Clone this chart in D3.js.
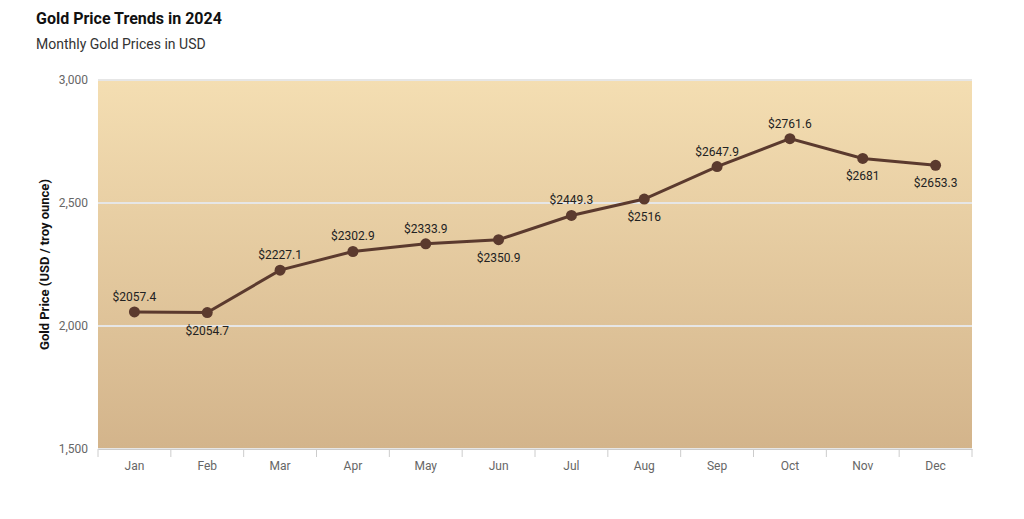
<!DOCTYPE html>
<html><head><meta charset="utf-8">
<script src="https://cdn.jsdelivr.net/npm/d3@7"></script>
<style>body{margin:0;background:#fff;font-family:Roboto,sans-serif}</style>
</head><body><svg id="c" width="1024" height="519"></svg>
<script>
const months = ['Jan','Feb','Mar','Apr','May','Jun','Jul','Aug','Sep','Oct','Nov','Dec'];
const prices = [2057.4,2054.7,2227.1,2302.9,2333.9,2350.9,2449.3,2516,2647.9,2761.6,2681,2653.3];
const labelSide = ['up','down','up','up','up','down','up','down','up','up','down','down'];
const yTicks = [1500,2000,2500,3000];

const margin = {top: 80, right: 52, bottom: 70, left: 98};
const width = 1024, height = 519;
const svg = d3.select('#c');

const x = d3.scaleBand().domain(months).range([margin.left, width - margin.right]);
const y = d3.scaleLinear().domain([1500, 3000]).range([height - margin.bottom, margin.top]);

const defs = svg.append('defs');
const grad = defs.append('linearGradient').attr('id','bg').attr('x1',0).attr('y1',0).attr('x2',0).attr('y2',1);
grad.append('stop').attr('offset','0%').attr('stop-color','#f4deb2');
grad.append('stop').attr('offset','100%').attr('stop-color','#d3b48b');

svg.append('rect').attr('x', margin.left).attr('y', margin.top)
  .attr('width', width - margin.right - margin.left).attr('height', y(1500) - y(3000))
  .attr('fill','url(#bg)');

// grid
svg.append('g').selectAll('line').data(yTicks).join('line')
  .attr('x1', margin.left).attr('x2', width - margin.right)
  .attr('y1', d => y(d)).attr('y2', d => y(d))
  .attr('stroke','#e6e6e6').attr('stroke-width',2);

// axes
const yAxis = svg.append('g').attr('transform', `translate(${margin.left},0)`)
  .call(d3.axisLeft(y).tickValues(yTicks).tickSize(0).tickPadding(10));
yAxis.select('.domain').remove();
yAxis.selectAll('text').attr('fill','#666').attr('font-size',12).attr('font-family','Roboto');

const xAxis = svg.append('g').attr('transform', `translate(0,${y(1500)})`)
  .call(d3.axisBottom(x).tickSize(0).tickPadding(12));
xAxis.select('.domain').attr('stroke','#ccc');
xAxis.selectAll('text').attr('fill','#666').attr('font-size',12).attr('font-family','Roboto');
xAxis.selectAll('.sep').data(d3.range(months.length + 1)).join('line')
  .attr('x1', i => margin.left + i * x.step()).attr('x2', i => margin.left + i * x.step())
  .attr('y1', 0).attr('y2', 8).attr('stroke','#ccc');

const cx = d => x(d) + x.bandwidth() / 2;
const line = d3.line().x((d, i) => cx(months[i])).y(d => y(d));
svg.append('path').datum(prices).attr('d', line)
  .attr('fill','none').attr('stroke','#5b3a2e').attr('stroke-width',3);

svg.append('g').selectAll('circle').data(prices).join('circle')
  .attr('cx', (d, i) => cx(months[i])).attr('cy', d => y(d)).attr('r', 5.5)
  .attr('fill','#5b3a2e');

svg.append('g').selectAll('text').data(prices).join('text')
  .attr('x', (d, i) => cx(months[i]))
  .attr('y', (d, i) => y(d) + (labelSide[i] === 'up' ? -11 : 22))
  .attr('text-anchor','middle').attr('font-size',12).attr('fill','#222')
  .text(d => '$' + d);

svg.append('text').attr('transform', `translate(49,${(y(1500) + y(3000)) / 2}) rotate(-90)`)
  .attr('text-anchor','middle').attr('font-size',13).attr('font-weight','bold').attr('fill','#111')
  .text('Gold Price (USD / troy ounce)');

svg.append('text').attr('x',36).attr('y',24).attr('font-size',16).attr('font-weight','bold')
  .attr('fill','#111').text('Gold Price Trends in 2024');
svg.append('text').attr('x',36).attr('y',49).attr('font-size',14).attr('fill','#333')
  .text('Monthly Gold Prices in USD');
</script></body></html>
